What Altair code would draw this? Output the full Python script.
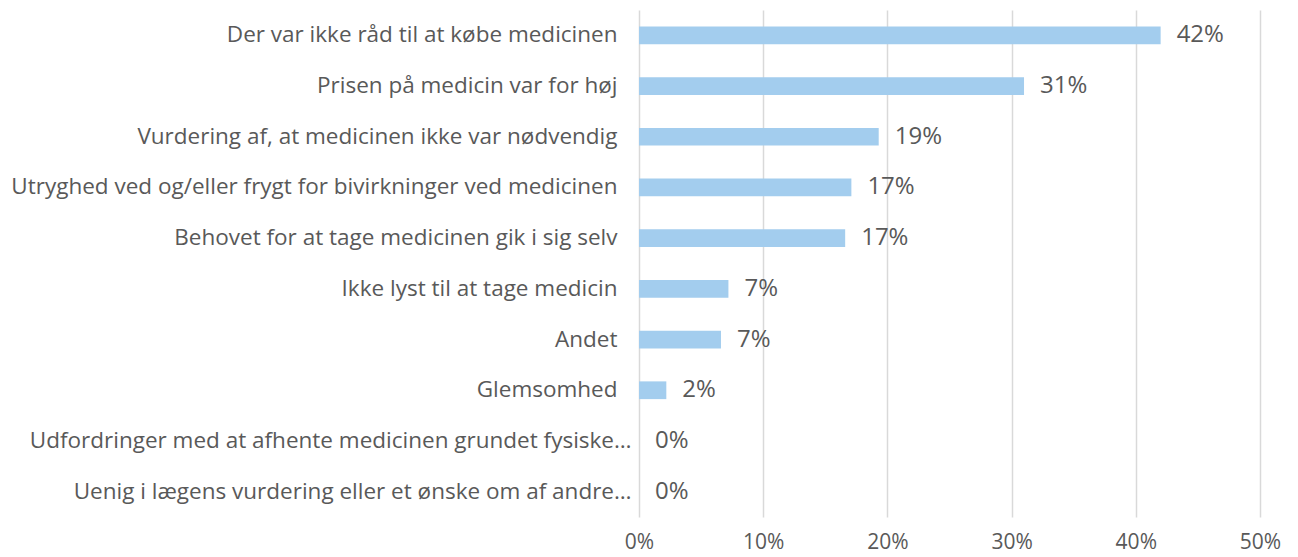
import altair as alt
import pandas as pd

categories = [
    "Der var ikke råd til at købe medicinen",
    "Prisen på medicin var for høj",
    "Vurdering af, at medicinen ikke var nødvendig",
    "Utryghed ved og/eller frygt for bivirkninger ved medicinen",
    "Behovet for at tage medicinen gik i sig selv",
    "Ikke lyst til at tage medicin",
    "Andet",
    "Glemsomhed",
    "Udfordringer med at afhente medicinen grundet fysiske…",
    "Uenig i lægens vurdering eller et ønske om af andre…",
]
values_pct = [42.0, 31.0, 19.3, 17.1, 16.6, 7.2, 6.6, 2.2, 0.0, 0.0]
x_ticks = [0, 0.1, 0.2, 0.3, 0.4, 0.5]

df = pd.DataFrame({"kategori": categories, "pct": values_pct})

FONT = "Open Sans"
TEXT = "#595959"

base = alt.Chart(df).transform_calculate(frac="datum.pct / 100")

y_enc = alt.Y(
    "kategori:N",
    sort=categories,
    title=None,
    scale=alt.Scale(paddingInner=0.65, paddingOuter=0.325),
    axis=alt.Axis(
        domain=False,
        ticks=False,
        grid=False,
        labelFont=FONT,
        labelFontSize=22.5,
        labelColor=TEXT,
        labelLimit=700,
        labelPadding={"condition": {"test": "indexof(datum.label, '…') >= 0", "value": 8}, "value": 22},
    ),
)

x_enc = alt.X(
    "frac:Q",
    title=None,
    scale=alt.Scale(domain=[0, 0.5], nice=False),
    axis=alt.Axis(
        values=x_ticks,
        format=".0%",
        domain=False,
        ticks=False,
        tickSize=0,
        labelPadding=14,
        labelFont=FONT,
        labelFontSize=21,
        labelColor=TEXT,
        grid=True,
        gridColor="#D9D9D9",
        gridWidth=1.5,
        labelFlush=False,
    ),
)

bars = base.mark_bar(color="#A3CDEE").encode(x=x_enc, y=y_enc)

labels = base.mark_text(
    align="left",
    baseline="middle",
    dx=16,
    font=FONT,
    fontSize=24,
    color=TEXT,
).encode(
    x=alt.X("frac:Q"),
    y=alt.Y("kategori:N", sort=categories),
    text=alt.Text("frac:Q", format=".0%"),
)

chart = (
    alt.layer(bars, labels)
    .properties(
        width=621,
        height=507,
        background="white",
        autosize=alt.AutoSizeParams(type="none"),
        padding={"left": 631, "top": 2, "right": 30, "bottom": 38},
    )
    .configure_view(stroke=None)
)

chart.save("out.html", embed_options={"renderer": "svg", "actions": False})
